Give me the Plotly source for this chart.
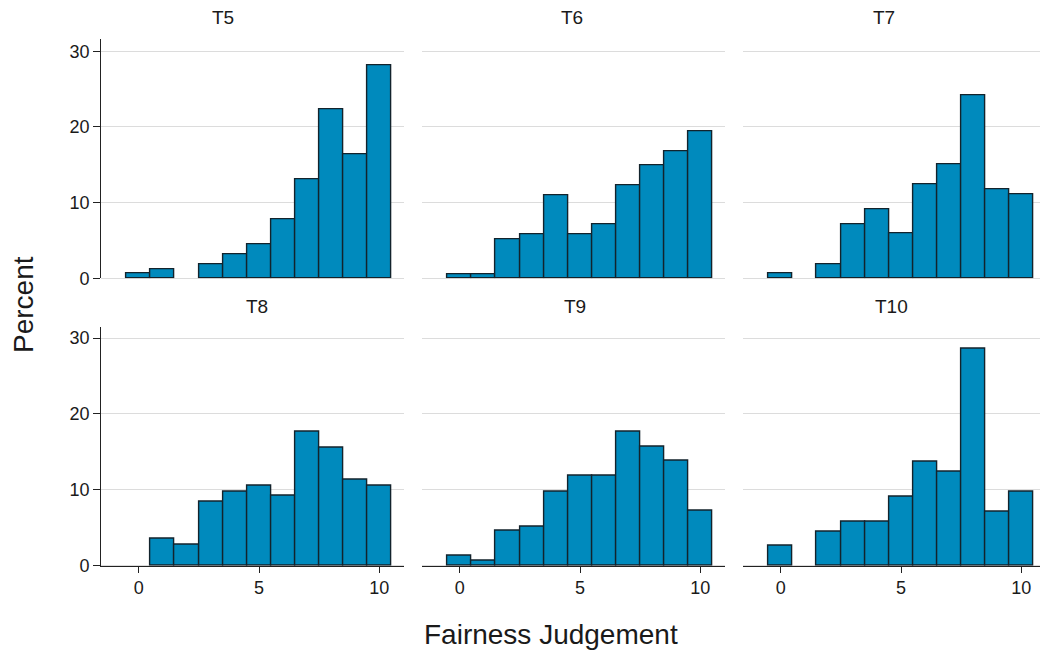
import plotly.graph_objects as go

# Fairness judgement scores (0-10) and percent of responses per treatment
scores = list(range(11))
treatments = ["T5", "T6", "T7", "T8", "T9", "T10"]
pct_t5 = [0.6, 1.2, 0.0, 1.9, 3.2, 4.5, 7.8, 13.1, 22.3, 16.4, 28.2]
pct_t6 = [0.5, 0.5, 5.1, 5.8, 11.0, 5.8, 7.1, 12.3, 14.9, 16.8, 19.4]
pct_t7 = [0.6, 0.0, 1.9, 7.2, 9.1, 5.9, 12.4, 15.1, 24.2, 11.8, 11.1]
pct_t8 = [0.0, 3.5, 2.8, 8.5, 9.8, 10.6, 9.2, 17.6, 15.6, 11.3, 10.6]
pct_t9 = [1.3, 0.6, 4.6, 5.2, 9.8, 11.8, 11.8, 17.7, 15.7, 13.8, 7.2]
pct_t10 = [2.6, 0.0, 4.5, 5.8, 5.8, 9.1, 13.7, 12.4, 28.6, 7.1, 9.7]
y_ticks = [0, 10, 20, 30]
x_ticks = [0, 5, 10]

series = [pct_t5, pct_t6, pct_t7, pct_t8, pct_t9, pct_t10]

# layout grid is designed on a 1040x650 frame; the figure itself is a bit taller
W, H = 1040, 650
FIG_H = 660
BAR = "#008abd"
EDGE = "#13232c"
GRID = "#dcdcdc"
FONT = "Liberation Sans, Arial, sans-serif"

# panel geometry in frame pixels (left, right) and (top, bottom)
cols_px = [(101.3, 404.3), (422.3, 725.3), (743.3, 1040.0)]
zero_px = [138.7, 459.7, 780.7]
rows_px = [(39.3, 278.3), (326.7, 565.7)]
px_per_unit = 24.06
y_top = [31.58, 31.5]

fig = go.Figure()
layout = dict()
for i, (name, vals) in enumerate(zip(treatments, series)):
    r, c = divmod(i, 3)
    n = i + 1
    xa = "x" if n == 1 else f"x{n}"
    ya = "y" if n == 1 else f"y{n}"
    fig.add_trace(go.Bar(
        x=scores, y=[v if v > 0 else None for v in vals], width=1,
        marker=dict(color=BAR, line=dict(color=EDGE, width=1.4)),
        xaxis=xa, yaxis=ya, showlegend=False, hoverinfo="x+y",
    ))
    l, rr = cols_px[c]
    t, b = rows_px[r]
    x0 = zero_px[c]
    xr = [-(x0 - l) / px_per_unit, (rr - x0) / px_per_unit]
    bottom = r == 1
    layout["xaxis" if n == 1 else f"xaxis{n}"] = dict(
        domain=[l / W, rr / W], range=xr, anchor=ya,
        showgrid=False, zeroline=False,
        showline=bottom, linecolor="#222222", linewidth=1.3,
        ticks="outside" if bottom else "", ticklen=6, tickwidth=1.3, tickcolor="#222222",
        tickvals=x_ticks, showticklabels=bottom,
        tickfont=dict(family=FONT, size=18, color="#1a1a1a"),
        fixedrange=True,
    )
    left = c == 0
    layout["yaxis" if n == 1 else f"yaxis{n}"] = dict(
        domain=[1 - b / H, 1 - t / H], range=[0, y_top[r]], anchor=xa,
        showgrid=True, gridcolor=GRID, gridwidth=1,
        zeroline=True, zerolinecolor=GRID, zerolinewidth=1,
        showline=left, linecolor="#222222", linewidth=1.3,
        ticks="outside" if left else "", ticklen=7, tickwidth=1.3, tickcolor="#222222",
        tickvals=y_ticks, showticklabels=left,
        tickfont=dict(family=FONT, size=18, color="#1a1a1a"),
        fixedrange=True,
    )

annotations = []
title_pos = [(223, 18), (572, 18), (884, 18), (257, 306), (575, 306), (891, 306)]
for name, (tx, ty) in zip(treatments, title_pos):
    annotations.append(dict(
        text=name, x=tx / W, y=1 - ty / H, xref="paper", yref="paper",
        xanchor="center", yanchor="middle", showarrow=False,
        font=dict(family=FONT, size=19, color="#1a1a1a"),
    ))
annotations.append(dict(
    text="Fairness Judgement", x=551 / W, y=1 - 634 / H, xref="paper", yref="paper",
    xanchor="center", yanchor="middle", showarrow=False,
    font=dict(family=FONT, size=28, color="#1a1a1a"),
))
annotations.append(dict(
    text="Percent", x=23 / W, y=1 - 305 / H, xref="paper", yref="paper",
    xanchor="center", yanchor="middle", showarrow=False, textangle=-90,
    font=dict(family=FONT, size=28, color="#1a1a1a"),
))

fig.update_layout(
    width=W, height=FIG_H, autosize=False,
    margin=dict(l=0, r=0, t=0, b=0),
    paper_bgcolor="white", plot_bgcolor="white",
    bargap=0, annotations=annotations,
    **layout,
)

fig.write_html("out.html", config={"displayModeBar": False, "responsive": False})
